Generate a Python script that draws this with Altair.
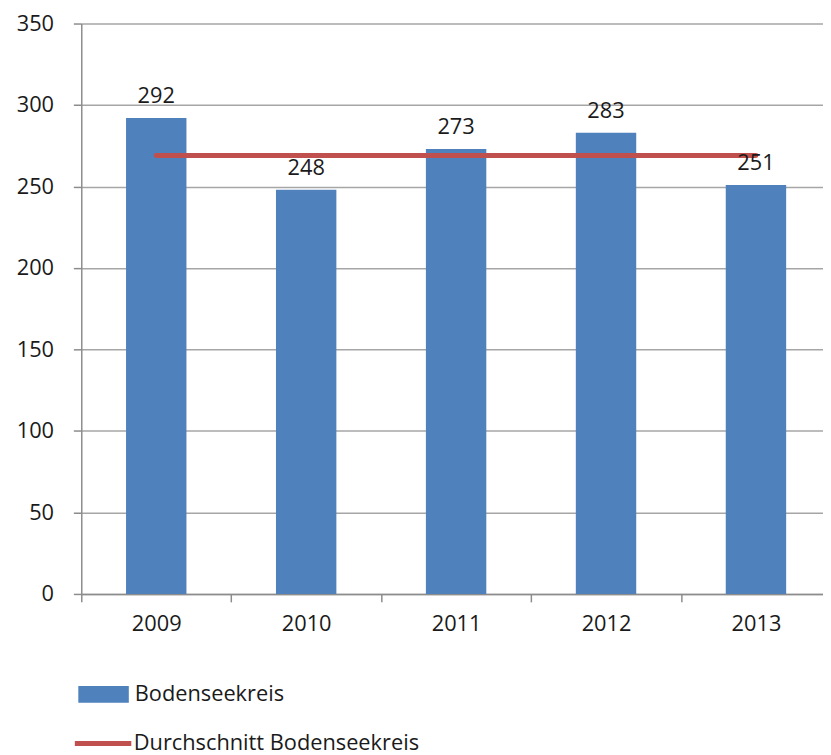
import altair as alt
import pandas as pd

years = ["2009", "2010", "2011", "2012", "2013"]
values = [292, 248, 273, 283, 251]
average = [269, 269, 269, 269, 269]
bar_series = ["Bodenseekreis"] * 5
line_series = ["Durchschnitt Bodenseekreis"] * 5

df = pd.DataFrame({"year": years, "value": values, "avg": average,
                   "bs": bar_series, "ls": line_series})

FONT = "Open Sans"
TXT = "#1a1a1a"
FS = 22

x = alt.X("year:N", title=None,
          scale=alt.Scale(paddingInner=0, paddingOuter=0, rangeMax=757),
          axis=alt.Axis(tickBand="extent", labelAngle=0, labelFontSize=FS,
                        labelFont=FONT, labelColor=TXT, labelPadding=12,
                        domainColor="#8c8c8c", domainWidth=1.5,
                        tickColor="#8c8c8c", tickWidth=1.5, tickSize=8,
                        grid=False))

y_scale = alt.Scale(domain=[0, 350], nice=False)
y_axis = alt.Axis(values=[0, 50, 100, 150, 200, 250, 300, 350], title=None,
                  labelFontSize=FS, labelFont=FONT, labelColor=TXT,
                  labelPadding=20, tickSize=8, tickColor="#8c8c8c",
                  tickWidth=1.5, domainColor="#8c8c8c", domainWidth=1.5,
                  grid=True, gridColor="#a6a6a6", gridWidth=1.5)

bars = alt.Chart(df).mark_bar(size=61).encode(
    x=x,
    y=alt.Y("value:Q", scale=y_scale, axis=y_axis),
    fill=alt.Fill("bs:N", scale=alt.Scale(range=["#4F81BD"]),
                  legend=alt.Legend(title=None, orient="none", legendX=-3,
                                    legendY=652, symbolType="M-1,-0.33H1V0.33H-1Z",
                                    symbolSize=2601, symbolStrokeWidth=0,
                                    symbolOpacity=1, labelLimit=0,
                                    labelFontSize=FS, labelFont=FONT,
                                    labelColor=TXT, labelOffset=6, padding=0)),
)

labels = alt.Chart(df).mark_text(baseline="alphabetic", dy=-15, fontSize=FS,
                                 font=FONT, color=TXT).encode(
    x=alt.X("year:N"),
    y=alt.Y("value:Q", scale=y_scale),
    text=alt.Text("value:Q"),
)

line = alt.Chart(df).mark_line(strokeWidth=5, strokeCap="round").encode(
    x=alt.X("year:N"),
    y=alt.Y("avg:Q", scale=y_scale),
    stroke=alt.Stroke("ls:N", scale=alt.Scale(range=["#C0504D"]),
                      legend=alt.Legend(title=None, orient="none", legendX=-9,
                                        legendY=696, symbolType="stroke",
                                        symbolSize=3249, symbolStrokeWidth=5,
                                        labelLimit=0,
                                        labelFontSize=FS, labelFont=FONT,
                                        labelColor=TXT, labelOffset=0,
                                        padding=0)),
)

chart = alt.layer(bars, line, labels).resolve_scale(
    fill="independent", stroke="independent"
).properties(
    width=749, height=576,
    autosize=alt.AutoSizeParams(type="none"),
    padding={"left": 74, "top": 12, "right": 0, "bottom": 164},
).configure_view(stroke=None)

chart.save("out.html", embed_options={"renderer": "svg", "actions": False})
